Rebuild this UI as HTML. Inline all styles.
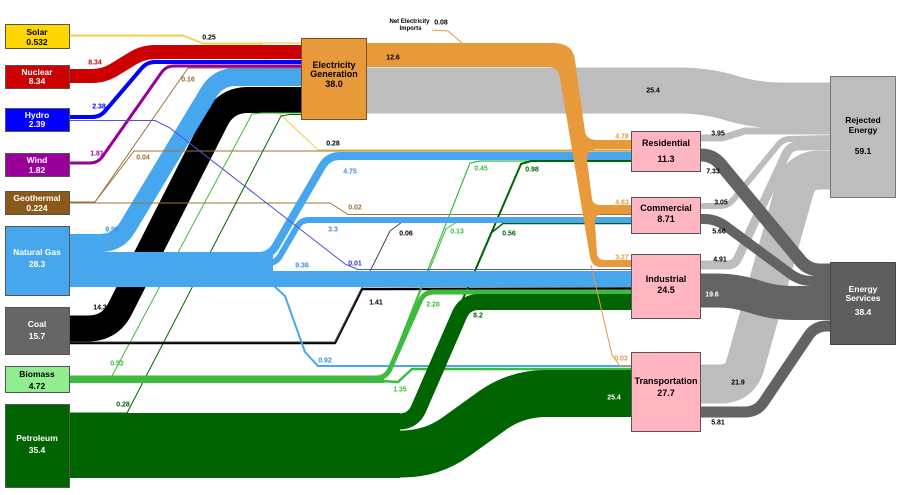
<!DOCTYPE html>
<html><head><meta charset="utf-8">
<style>
html,body{margin:0;padding:0;background:#fff;}
svg{display:block;}
text{font-family:"Liberation Sans",Arial,sans-serif;font-weight:bold;}
</style></head><body>
<svg width="900" height="495" viewBox="0 0 900 495" xmlns="http://www.w3.org/2000/svg">
<rect width="900" height="495" fill="#fff"/>
<g fill="none" stroke-linejoin="round">
  <!-- solar 0.28 behind -->
  <path d="M69,36 L183,36 L203,44 L262,44 L278,112 L318,150 L631,150" stroke="#EED45A" stroke-width="1.2"/>
  <!-- elec -> rejected -->
  <path d="M366,90.5 L680,90.5 Q705,90.5 729,97.4 L733,98.6 Q757,105.5 782,105.5 L830,105.5" stroke="#BDBDBD" stroke-width="46"/>
  <!-- sectors -> rejected -->
  <path d="M700,138 L722,138 L745,131 L830,131" stroke="#BDBDBD" stroke-width="7"/>
  <path d="M700,206 L720,206 Q728,206 733,200 L778,145 Q783,139 790,139 L830,138" stroke="#BDBDBD" stroke-width="6"/>
  <path d="M700,265 L727,265 Q735,265 738,258 L786,154 Q790,146 798,146 L830,145.5" stroke="#BDBDBD" stroke-width="9"/>
  <path d="M700,384 L720,384 Q740,384 745.4,364.7 L794.6,189.3 Q800,170 820,170 L830,170" stroke="#BDBDBD" stroke-width="39"/>
  <!-- sectors -> energy services -->
  <path d="M700,155 L701,155 Q713,155 720.6,164.3 L800.4,260.7 Q808,270 820,270 L830,270" stroke="#636363" stroke-width="13"/>
  <path d="M700,219 L704,219 Q716,219 725.7,226.1 L790.3,273.9 Q800,281 812,281 L830,281" stroke="#636363" stroke-width="10"/>
  <path d="M700,290.5 L717,290.5 Q735,290.5 752.2,295.9 L757.8,297.6 Q775,303 793,303 L830,303" stroke="#636363" stroke-width="34"/>
  <path d="M700,412 L745,412 Q757,412 763.7,402.1 L808.3,335.9 Q815,326 827,326 L830,326" stroke="#636363" stroke-width="11"/>
  <!-- inputs to elec -->
  <path d="M69,76 L92,76 Q104,76 114.2,69.7 L132.8,58.3 Q143,52 155,52 L301,52" stroke="#CC0000" stroke-width="14"/>
  <path d="M69,117 L92,117 Q100,117 105.2,110.9 L141.8,68.1 Q147,62 155,62 L301,62" stroke="#0000FF" stroke-width="4"/>
  <path d="M69,163 L90,163 Q98,163 102.6,156.4 L161.4,72.6 Q166,66 174,66 L301,66" stroke="#990099" stroke-width="3"/>
  <path d="M69,328.5 L88,328.5 Q110,328.5 119.96,308.9 L216.04,119.6 Q226,100 248,100 L301,100" stroke="#000" stroke-width="26"/>
  <path d="M69,243 L100,243 Q118,243 127.29,227.58 L208.71,92.42 Q218,77 236,77 L301,77" stroke="#47A7EE" stroke-width="18"/>
  <!-- thin lines -->
  <path d="M69,35 L183,35 L203,43 L301,43" stroke="#EED45A" stroke-width="1.2"/>
  <path d="M69,202 L95,202 L188,68 L301,68" stroke="#A0703A" stroke-width="1"/>
  <path d="M69,202 L95,202 L134,151 L631,151" stroke="#A0703A" stroke-width="1"/>
  <path d="M69,203 L330,203 L348,214.5 L631,214.5" stroke="#A0703A" stroke-width="1"/>
  <path d="M69,376 L112,376 L252,114 L262,113 L301,113" stroke="#3DBB3D" stroke-width="1"/>
  <path d="M69,413 L127,413 L281,116 L290,114.5 L301,114.5" stroke="#006400" stroke-width="1"/>
  <path d="M69,343 L335,343 L362,289 L631,288.5" stroke="#000" stroke-width="2.5"/>
  <path d="M69,342 L335,342 L390,231 L402,222 L631,222" stroke="#444" stroke-width="1"/>
  <path d="M386,376 L470,163 L480,161 L631,161" stroke="#3DBB3D" stroke-width="1.2"/>
  <path d="M386,376 L446,229 L456,222.5 L631,222.5" stroke="#3DBB3D" stroke-width="1"/>
  <path d="M413,415 L521,164 L531,161 L631,161" stroke="#006400" stroke-width="2"/>
  <path d="M413,415 L491,233 L503,223.5 L631,223.5" stroke="#006400" stroke-width="1.5"/>
  <path d="M69,286 L274,286 L285,296 L305,352 L318,366 L631,366" stroke="#47A7EE" stroke-width="2"/>
  <!-- biomass -->
  <path d="M69,379.5 L384,379.5" stroke="#3DBB3D" stroke-width="7"/>
  <path d="M69,378 L376,378 Q386,378 390,368.9 L420,301.2 Q424,292 434,292 L631,292" stroke="#3DBB3D" stroke-width="5"/>
  <path d="M380,381 L398,382 L412,369 L631,369" stroke="#3DBB3D" stroke-width="2.5"/>
  <!-- petroleum -->
  <rect x="69" y="413" width="331" height="65" fill="#006400" stroke="none"/>
  <path d="M69,421.5 L399,421.5 Q413,421.5 418.6,408.7 L459.4,314.8 Q465,302 479,302 L631,302" stroke="#006400" stroke-width="16"/>
  <path d="M69,454 L402,454 Q432,454 456.3,436.5 L491.7,411 Q516,393.5 546,393.5 L631,393.5" stroke="#006400" stroke-width="47"/>
  <!-- gas main -->
  <rect x="69" y="252" width="204" height="35" fill="#47A7EE" stroke="none"/>
  <path d="M69,256 L258,256 Q270,256 276,245.6 L322,166.4 Q328,156 340,156 L631,156" stroke="#47A7EE" stroke-width="8"/>
  <path d="M69,263 L268,263 Q276,263 280,256.1 L297,226.9 Q301,220 309,220 L631,220" stroke="#47A7EE" stroke-width="6"/>
  <path d="M69,279 L631,279" stroke="#47A7EE" stroke-width="16"/>
  <path d="M69,120.5 L155,120.5 L170,128 L345,264 L358,269.5 L631,269.5" stroke="#5050DD" stroke-width="1"/>
  <!-- orange -->
  <path d="M366,43 L553,43 Q573,43 575,60 L585,132 Q587,140 597,140 L631,140 L631,149 L598,149 Q587,149 587,160 L592,199 Q593,205 601,205 L631,205 L631,214 L603,214 Q594,214 595,224 L597,254 Q598,260 605,260 L631,260 L631,267 L601,267 Q592,267 590,257 L560,78 Q558,67 549,67 L366,67 Z" fill="#E8993A" stroke="none"/>
  <path d="M591,265 L612,355 L620,366 L631,366" stroke="#E8993A" stroke-width="1"/>
  <path d="M432,30 L448,31 L462,43" stroke="#E8993A" stroke-width="1"/>
</g>
<!-- boxes -->
<g stroke="#555" stroke-width="1">
  <rect x="5.5" y="24.5" width="64" height="24" fill="#FFD700"/>
  <rect x="5.5" y="65.5" width="64" height="23" fill="#CC0000"/>
  <rect x="5.5" y="108.5" width="64" height="23" fill="#0000FF"/>
  <rect x="5.5" y="153.5" width="64" height="23" fill="#990099"/>
  <rect x="5.5" y="191.5" width="64" height="23" fill="#8B5A1B"/>
  <rect x="5.5" y="226.5" width="64" height="69" fill="#47A7EE"/>
  <rect x="5.5" y="307.5" width="64" height="47" fill="#666666"/>
  <rect x="5.5" y="366.5" width="64" height="26" fill="#90EE90"/>
  <rect x="5.5" y="404.5" width="64" height="83" fill="#006400"/>
  <rect x="301.5" y="38.5" width="65" height="81" fill="#E8993A" stroke="#7a5020"/>
  <rect x="631.5" y="131.5" width="69" height="40" fill="#FFB6C1"/>
  <rect x="631.5" y="197.5" width="69" height="36" fill="#FFB6C1"/>
  <rect x="631.5" y="254.5" width="69" height="64" fill="#FFB6C1"/>
  <rect x="631.5" y="352.5" width="69" height="79" fill="#FFB6C1"/>
  <rect x="830.5" y="76.5" width="65" height="121" fill="#BDBDBD" stroke="#777"/>
  <rect x="830.5" y="262.5" width="65" height="82" fill="#5E5E5E" stroke="#444"/>
</g>
<!-- box labels -->
<g font-size="8.5" text-anchor="middle">
  <text x="37" y="35" fill="#000">Solar</text><text x="37" y="45" fill="#000">0.532</text>
  <text x="37" y="75" fill="#fff">Nuclear</text><text x="37" y="84" fill="#fff">8.34</text>
  <text x="37" y="118" fill="#fff">Hydro</text><text x="37" y="127" fill="#fff">2.39</text>
  <text x="37" y="163" fill="#fff">Wind</text><text x="37" y="173" fill="#fff">1.82</text>
  <text x="37" y="201" fill="#fff">Geothermal</text><text x="37" y="211" fill="#fff">0.224</text>
  <text x="37" y="255" fill="#fff">Natural Gas</text><text x="37" y="267" fill="#fff">28.3</text>
  <text x="37" y="327" fill="#fff">Coal</text><text x="37" y="339" fill="#fff">15.7</text>
  <text x="37" y="377" fill="#000">Biomass</text><text x="37" y="389" fill="#000">4.72</text>
  <text x="37" y="441" fill="#fff">Petroleum</text><text x="37" y="453" fill="#fff">35.4</text>
</g>
<g font-size="9" text-anchor="middle" fill="#000">
  <text x="334" y="68">Electricity</text><text x="334" y="77">Generation</text><text x="334" y="87">38.0</text>
  <text x="666" y="146">Residential</text><text x="666" y="162">11.3</text>
  <text x="666" y="211">Commercial</text><text x="666" y="222">8.71</text>
  <text x="666" y="282">Industrial</text><text x="666" y="293">24.5</text>
  <text x="666" y="384">Transportation</text><text x="666" y="396">27.7</text>
  <text x="863" y="123" font-size="8.5">Rejected</text><text x="863" y="133" font-size="8.5">Energy</text><text x="863" y="154" font-size="8.5">59.1</text>
  <text x="863" y="292" font-size="8.5" fill="#fff">Energy</text><text x="863" y="301" font-size="8.5" fill="#fff">Services</text><text x="863" y="315" font-size="8.5" fill="#fff">38.4</text>
</g>
<!-- flow labels -->
<g font-size="7" text-anchor="middle">
  <text x="209" y="39.5" fill="#000">0.25</text>
  <text x="95" y="64.5" fill="#CC0000">8.34</text>
  <text x="188" y="81.5" fill="#9B6B2F">0.16</text>
  <text x="99" y="108.5" fill="#0000EE">2.38</text>
  <text x="97" y="155.5" fill="#990099">1.81</text>
  <text x="143" y="159.5" fill="#9B6B2F">0.04</text>
  <text x="112" y="231.5" fill="#3A8FE0">9.99</text>
  <text x="100" y="309.5" fill="#000">14.3</text>
  <text x="117" y="365.5" fill="#3DBB3D">0.52</text>
  <text x="123" y="406.5" fill="#006400">0.28</text>
  <text x="393" y="59.5" fill="#000">12.6</text>
  <text x="441" y="24.5" fill="#000">0.08</text>
  <text x="409.5" y="23" font-size="6" fill="#000">Net Electricity</text>
  <text x="410.5" y="30" font-size="6" fill="#000">Imports</text>
  <text x="333" y="145.5" fill="#000">0.28</text>
  <text x="350" y="173.5" fill="#3A8FE0">4.75</text>
  <text x="355" y="209.5" fill="#9B6B2F">0.02</text>
  <text x="333" y="231.5" fill="#3A8FE0">3.3</text>
  <text x="302" y="267.5" fill="#3A8FE0">9.36</text>
  <text x="355" y="265.5" fill="#3333CC">0.01</text>
  <text x="406" y="235.5" fill="#000">0.06</text>
  <text x="457" y="233.5" fill="#3DBB3D">0.13</text>
  <text x="509" y="235.5" fill="#006400">0.56</text>
  <text x="481" y="170.5" fill="#3DBB3D">0.45</text>
  <text x="532" y="171.5" fill="#006400">0.98</text>
  <text x="376" y="304.5" fill="#000">1.41</text>
  <text x="433" y="306.5" fill="#3DBB3D">2.28</text>
  <text x="478" y="317.5" fill="#006400">8.2</text>
  <text x="325" y="362.5" fill="#3A8FE0">0.92</text>
  <text x="400" y="391.5" fill="#3DBB3D">1.35</text>
  <text x="614" y="399.5" fill="#fff">25.4</text>
  <text x="621" y="360.5" fill="#E8993A">0.03</text>
  <text x="622" y="259.5" fill="#E8993A">3.27</text>
  <text x="622" y="204.5" fill="#E8993A">4.63</text>
  <text x="622" y="138.5" fill="#E8993A">4.78</text>
  <text x="653" y="92.5" fill="#000">25.4</text>
  <text x="718" y="135.5" fill="#000">3.95</text>
  <text x="713" y="173.5" fill="#000">7.33</text>
  <text x="721" y="204.5" fill="#000">3.05</text>
  <text x="719" y="233.5" fill="#000">5.66</text>
  <text x="720" y="261.5" fill="#000">4.91</text>
  <text x="712" y="296.5" fill="#fff">19.6</text>
  <text x="738" y="384.5" fill="#000">21.9</text>
  <text x="718" y="424.5" fill="#000">5.81</text>
</g>
</svg>
</body></html>
